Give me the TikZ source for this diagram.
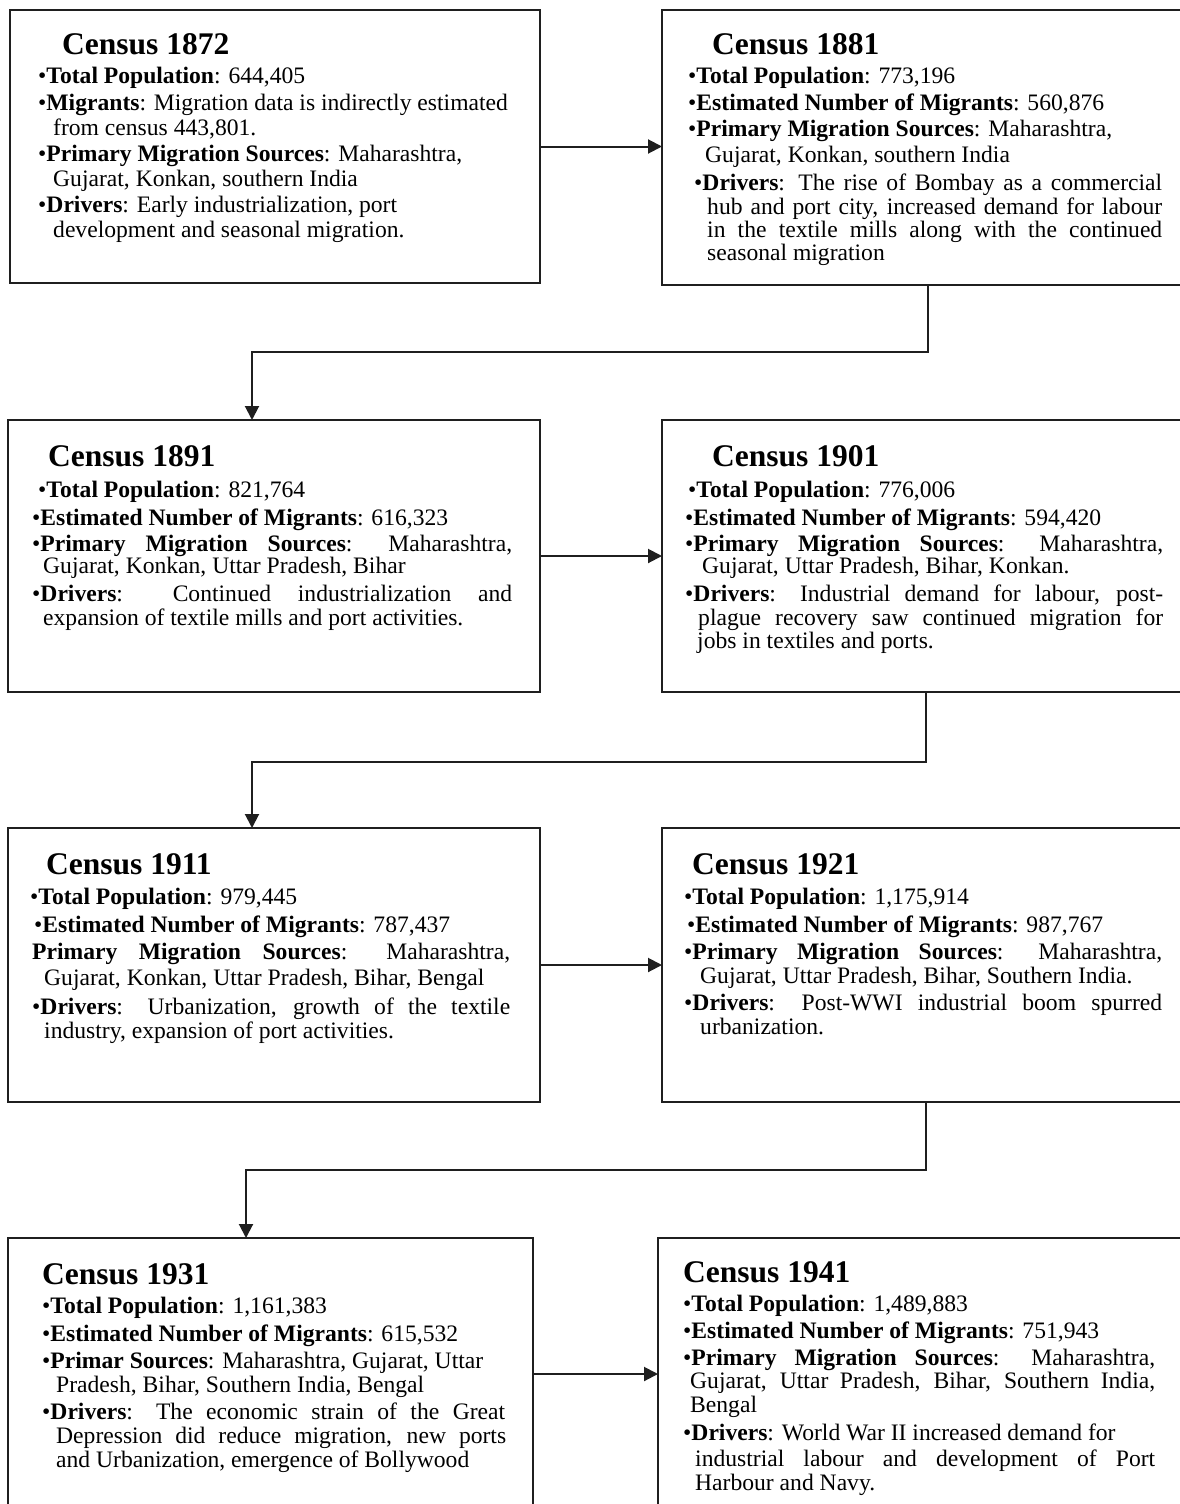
\documentclass[tikz,border=0pt]{standalone}
\usepackage{fontspec}
\setmainfont{Liberation Serif}
\usetikzlibrary{arrows.meta}
\tikzset{
  box/.style={draw=black!88, line width=2.2pt, rectangle, inner sep=0pt, outer sep=0pt, anchor=north west},
  ttl/.style={anchor=base west, inner sep=0pt, font=\fontsize{31.5}{36}\selectfont\bfseries},
  txt/.style={anchor=base west, inner sep=0pt, font=\fontsize{23.6}{26}\selectfont},
  conn/.style={line width=2pt, draw=black!88, -{Triangle[length=14pt,width=14pt]}},
}
\newcommand\J[2]{\makebox[#1pt][s]{#2}}
\newcommand\B[1]{\textbf{#1}}
\begin{document}
\begin{tikzpicture}[x=1pt,y=-1pt]
\useasboundingbox (0,0) rectangle (1180,1504);
\clip (0,0) rectangle (1180,1504);
\fill[white] (0,0) rectangle (1180,1504);

% boxes
\node[box, minimum width=530pt, minimum height=273pt] (b1872) at (10,10) {};
\node[box, minimum width=532pt, minimum height=275pt] (b1881) at (662,10) {};
\node[box, minimum width=532pt, minimum height=272pt] (b1891) at (8,420) {};
\node[box, minimum width=528pt, minimum height=272pt] (b1901) at (662,420) {};
\node[box, minimum width=532pt, minimum height=274pt] (b1911) at (8,828) {};
\node[box, minimum width=528pt, minimum height=274pt] (b1921) at (662,828) {};
\node[box, minimum width=525pt, minimum height=272pt] (b1931) at (8,1238) {};
\node[box, minimum width=540pt, minimum height=272pt] (b1941) at (658,1238) {};

% connectors
\draw[conn] (b1872.east) -- (b1872.east -| b1881.west);
\draw[conn] (b1891.east) -- (b1891.east -| b1901.west);
\draw[conn] (b1911.east) -- (b1911.east -| b1921.west);
\draw[conn] (b1931.east) -- (b1931.east -| b1941.west);
\coordinate (k1) at (252,352);
\coordinate (k2) at (252,762);
\coordinate (k3) at (246,1170);
\draw[conn] (b1881.south) |- (k1) -- (k1 |- b1891.north);
\draw[conn] (b1901.south) |- (k2) -- (k2 |- b1911.north);
\draw[conn] (b1921.south) |- (k3) -- (k3 |- b1931.north);

% titles
\node[ttl] (h1872) at (62,55) {Census 1872};
\node[ttl] (h1881) at (712,55) {Census 1881};
\node[ttl] (h1891) at (48,466) {Census 1891};
\node[ttl] (h1901) at (712,466) {Census 1901};
\node[ttl] (h1911) at (46,874) {Census 1911};
\node[ttl] (h1921) at (692,874) {Census 1921};
\node[ttl] (h1931) at (42,1284) {Census 1931};
\node[ttl] (h1941) at (683,1282) {Census 1941};

% 1872
\node[txt] (a1) at (38,84) {•\B{Total Population}: 644,405};
\node[txt] (a2) at (38,110) {•\B{Migrants}: Migration data is indirectly estimated};
\node[txt] (a3) at (53,135) {from census 443,801.};
\node[txt] (a4) at (38,161) {•\B{Primary Migration Sources}: Maharashtra,};
\node[txt] (a5) at (53,186) {Gujarat, Konkan, southern India};
\node[txt] (a6) at (38,212) {•\B{Drivers}: Early industrialization, port};
\node[txt] (a7) at (53,237) {development and seasonal migration.};

% 1881
\node[txt] (c1) at (688,84) {•\B{Total Population}: 773,196};
\node[txt] (c2) at (688,110) {•\B{Estimated Number of Migrants}: 560,876};
\node[txt] (c3) at (688,136) {•\B{Primary Migration Sources}: Maharashtra,};
\node[txt] (c4) at (705,162) {Gujarat, Konkan, southern India};
\node[txt] (c5) at (694,190) {\J{468}{•\B{Drivers}: The rise of Bombay as a commercial}};
\node[txt] (c6) at (707,214) {\J{455}{hub and port city, increased demand for labour}};
\node[txt] (c7) at (707,237) {\J{455}{in the textile mills along with the continued}};
\node[txt] (c8) at (707,260) {seasonal migration};

% 1891
\node[txt] (d1) at (38,497) {•\B{Total Population}: 821,764};
\node[txt] (d2) at (32,525) {•\B{Estimated Number of Migrants}: 616,323};
\node[txt] (d3) at (32,551) {\J{480}{•\B{Primary Migration Sources}: Maharashtra,}};
\node[txt] (d4) at (43,573) {Gujarat, Konkan, Uttar Pradesh, Bihar};
\node[txt] (d5) at (32,601) {\J{480}{•\B{Drivers}: Continued industrialization and}};
\node[txt] (d6) at (43,625) {expansion of textile mills and port activities.};

% 1901
\node[txt] (e1) at (688,497) {•\B{Total Population}: 776,006};
\node[txt] (e2) at (685,525) {•\B{Estimated Number of Migrants}: 594,420};
\node[txt] (e3) at (685,551) {\J{478}{•\B{Primary Migration Sources}: Maharashtra,}};
\node[txt] (e4) at (702,573) {Gujarat, Uttar Pradesh, Bihar, Konkan.};
\node[txt] (e5) at (685,601) {\J{478}{•\B{Drivers}: Industrial demand for labour, post-}};
\node[txt] (e6) at (698,625) {\J{465}{plague recovery saw continued migration for}};
\node[txt] (e7) at (697,648) {jobs in textiles and ports.};

% 1911
\node[txt] (f1) at (30,904) {•\B{Total Population}: 979,445};
\node[txt] (f2) at (34,932) {•\B{Estimated Number of Migrants}: 787,437};
\node[txt] (f3) at (32,959) {\J{478}{\B{Primary Migration Sources}: Maharashtra,}};
\node[txt] (f4) at (44,985) {Gujarat, Konkan, Uttar Pradesh, Bihar, Bengal};
\node[txt] (f5) at (32,1014) {\J{478}{•\B{Drivers}: Urbanization, growth of the textile}};
\node[txt] (f6) at (44,1038) {industry, expansion of port activities.};

% 1921
\node[txt] (g1) at (684,904) {•\B{Total Population}: 1,175,914};
\node[txt] (g2) at (687,932) {•\B{Estimated Number of Migrants}: 987,767};
\node[txt] (g3) at (684,959) {\J{478}{•\B{Primary Migration Sources}: Maharashtra,}};
\node[txt] (g4) at (700,983) {Gujarat, Uttar Pradesh, Bihar, Southern India.};
\node[txt] (g5) at (684,1010) {\J{478}{•\B{Drivers}: Post-WWI industrial boom spurred}};
\node[txt] (g6) at (700,1034) {urbanization.};

% 1931
\node[txt] (m1) at (42,1313) {•\B{Total Population}: 1,161,383};
\node[txt] (m2) at (42,1341) {•\B{Estimated Number of Migrants}: 615,532};
\node[txt] (m3) at (42,1368) {•\B{Primar Sources}: Maharashtra, Gujarat, Uttar};
\node[txt] (m4) at (56,1392) {Pradesh, Bihar, Southern India, Bengal};
\node[txt] (m5) at (42,1419) {\J{463}{•\B{Drivers}: The economic strain of the Great}};
\node[txt] (m6) at (56,1443) {\J{450}{Depression did reduce migration, new ports}};
\node[txt] (m7) at (56,1467) {and Urbanization, emergence of Bollywood};

% 1941
\node[txt] (n1) at (683,1311) {•\B{Total Population}: 1,489,883};
\node[txt] (n2) at (683,1338) {•\B{Estimated Number of Migrants}: 751,943};
\node[txt] (n3) at (683,1365) {\J{472}{•\B{Primary Migration Sources}: Maharashtra,}};
\node[txt] (n4) at (690,1388) {\J{465}{Gujarat, Uttar Pradesh, Bihar, Southern India,}};
\node[txt] (n5) at (690,1412) {Bengal};
\node[txt] (n6) at (683,1440) {•\B{Drivers}: World War II increased demand for};
\node[txt] (n7) at (695,1466) {\J{460}{industrial labour and development of Port}};
\node[txt] (n8) at (695,1490) {Harbour and Navy.};
\end{tikzpicture}
\end{document}
